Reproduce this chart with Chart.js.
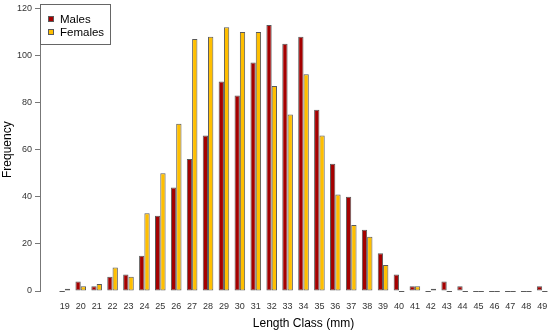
<!DOCTYPE html>
<html>
<head>
  <title>Length Class Frequency</title>
  <style>
    html, body {
      margin: 0;
      padding: 0;
      background: #fff;
      overflow: hidden;
    }
    #wrap {
      position: absolute;
      left: 0;
      top: 0;
    }
  </style>
</head>
<body>
  <div id="wrap">
    <canvas id="barChart" width="567" height="333"></canvas>
  </div>

  <script src="https://cdn.jsdelivr.net/npm/chart.js"></script>
  <script>
    // length classes (mm)
    const classes = [19, 20, 21, 22, 23, 24, 25, 26, 27, 28, 29, 30, 31, 32, 33, 34,
                     35, 36, 37, 38, 39, 40, 41, 42, 43, 44, 45, 46, 47, 48, 49];
    const males   = [0, 4, 2, 6, 7, 15, 32, 44, 56, 66, 89, 83, 97, 113, 105, 108,
                     77, 54, 40, 26, 16, 7, 2, 0, 4, 2, 0, 0, 0, 0, 2];
    const females = [1, 2, 3, 10, 6, 33, 50, 71, 107, 108, 112, 110, 110, 87, 75, 92,
                     66, 41, 28, 23, 11, 0, 2, 1, 0, 0, 0, 0, 0, 0, 0];
    const yTicks = [0, 20, 40, 60, 80, 100, 120];

    const FONT = "'Liberation Sans', Arial, sans-serif";
    const MALE_COLOR = '#a50000';
    const FEMALE_COLOR = '#ffbf00';
    const EDGE = '#5a5a5a';

    // R draws empty bars as a flat outline, Chart.js draws nothing
    const zeroBars = {
      id: 'zeroBars',
      afterDatasetsDraw(chart) {
        const ctx = chart.ctx;
        ctx.save();
        ctx.strokeStyle = EDGE;
        ctx.lineWidth = 1;
        chart.data.datasets.forEach((ds, di) => {
          const meta = chart.getDatasetMeta(di);
          meta.data.forEach((bar, i) => {
            if (ds.data[i].y !== 0) return;
            const y = Math.round(bar.y) + 0.5;
            ctx.beginPath();
            ctx.moveTo(bar.x - bar.width / 2, y);
            ctx.lineTo(bar.x + bar.width / 2, y);
            ctx.stroke();
          });
        });
        ctx.restore();
      }
    };

    // boxed legend in the top left corner, like base R legend()
    const boxLegend = {
      id: 'boxLegend',
      afterDraw(chart) {
        const ctx = chart.ctx;
        const left = chart.chartArea.left;
        ctx.save();
        ctx.fillStyle = '#fff';
        ctx.fillRect(left, 4, 70, 40);
        ctx.strokeStyle = '#666';
        ctx.lineWidth = 1;
        ctx.strokeRect(left + 0.5, 4.5, 70, 40);
        ctx.font = '11.5px ' + FONT;
        ctx.textBaseline = 'middle';
        chart.data.datasets.forEach((ds, i) => {
          const cy = 19 + i * 13;
          ctx.fillStyle = ds.backgroundColor;
          ctx.fillRect(left + 8, cy - 3, 6, 6);
          ctx.strokeStyle = EDGE;
          ctx.strokeRect(left + 8.5, cy - 2.5, 5, 5);
          ctx.fillStyle = '#000';
          ctx.fillText(ds.label, left + 20, cy + 0.5);
        });
        ctx.restore();
      }
    };

    const barChart = new Chart(document.getElementById('barChart'), {
      type: 'bar',
      data: {
        datasets: [{
          label: 'Males',
          data: classes.map((c, i) => ({ x: c, y: males[i] })),
          backgroundColor: MALE_COLOR,
          borderColor: EDGE,
          borderWidth: 1,
          borderSkipped: false
        }, {
          label: 'Females',
          data: classes.map((c, i) => ({ x: c, y: females[i] })),
          backgroundColor: FEMALE_COLOR,
          borderColor: EDGE,
          borderWidth: 1,
          borderSkipped: false
        }]
      },
      options: {
        responsive: false,
        animation: false,
        categoryPercentage: 2 / 3,
        barPercentage: 1,
        layout: {
          padding: { top: 6, right: 0, bottom: 0, left: 0 }
        },
        plugins: {
          legend: { display: false },
          tooltip: { enabled: false }
        },
        scales: {
          x: {
            type: 'linear',
            offset: false,
            min: 17.44,
            max: 50.56,
            grid: { display: false, drawTicks: false },
            border: { display: false },
            afterBuildTicks: scale => {
              scale.ticks = classes.map(v => ({ value: v }));
            },
            afterFit: scale => { scale.height = 42; },
            ticks: {
              autoSkip: false,
              maxRotation: 0,
              padding: 10,
              color: '#333',
              font: { family: FONT, size: 9 },
              callback: v => String(v)
            },
            title: {
              display: true,
              text: 'Length Class (mm)',
              color: '#000',
              font: { family: FONT, size: 12 },
              padding: { top: 0, bottom: 2 }
            }
          },
          y: {
            min: 0,
            max: 120,
            afterBuildTicks: scale => {
              scale.ticks = yTicks.map(v => ({ value: v }));
            },
            afterFit: scale => { scale.width = 40; },
            grid: {
              drawOnChartArea: false,
              drawTicks: true,
              tickLength: 5,
              color: '#777'
            },
            border: { display: true, color: '#777' },
            ticks: {
              padding: 3,
              color: '#333',
              font: { family: FONT, size: 9 }
            },
            title: {
              display: true,
              text: 'Frequency',
              color: '#000',
              font: { family: FONT, size: 12 },
              padding: 0
            }
          }
        }
      },
      plugins: [zeroBars, boxLegend]
    });
  </script>
</body>
</html>
